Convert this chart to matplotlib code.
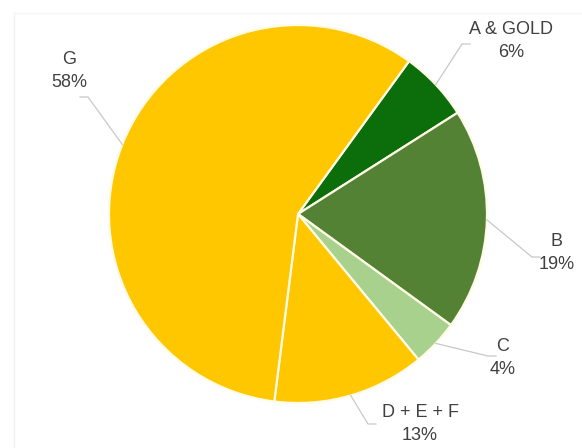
import numpy as np
import matplotlib.pyplot as plt

plt.rcParams["font.family"] = ["Liberation Sans", "DejaVu Sans"]

# share of each group, drawn clockwise starting from the A & GOLD slice
groups = ["A & GOLD", "B", "C", "D + E + F", "G"]
shares = [6, 19, 4, 13, 58]
colors = ["#0b6e0b", "#548235", "#a9d18e", "#ffc700", "#ffc700"]

# label anchor points (pixels from the top-left) and leader elbow ends
label_pos = [(511, 41), (557, 253), (503, 358), (420, 424), (69, 71)]
elbow_pos = [(462, 44), (532, 257), (488, 356), (368, 424), (88, 97)]

W, H = 582, 448
cx, cy, r = 298, 214, 189

fig = plt.figure(figsize=(W / 100, H / 100), dpi=100)
ax = fig.add_axes([0, 0, 1, 1])

# faint chart frame
ax.plot([14, 14], [0, H - 13], color="#f3f3f3", lw=1)
ax.plot([14, W], [H - 13, H - 13], color="#f6f6f6", lw=1)

wedges, _ = ax.pie(
    shares,
    colors=colors,
    startangle=54,
    counterclock=False,
    center=(cx, H - cy),
    radius=r,
    wedgeprops=dict(edgecolor="#fffbe6", linewidth=1.6),
    frame=True,
)
ax.set_xlim(0, W)
ax.set_ylim(0, H)
ax.set_aspect("equal")
ax.axis("off")

for w, name, val, (lx, ly), (ex, ey) in zip(wedges, groups, shares, label_pos, elbow_pos):
    mid = np.deg2rad((w.theta1 + w.theta2) / 2)
    sx = cx + r * np.cos(mid)
    sy = (H - cy) + r * np.sin(mid)
    # leader line: from slice edge to a short horizontal tail near the label
    tail = 8 if ex > cx else -8
    ax.plot([sx, ex, ex + tail], [sy, H - ey, H - ey],
            color="#c8c8c8", lw=0.9, zorder=1)
    ax.text(lx, H - ly, f"{name}\n{val}%", ha="center", va="center",
            fontsize=13, color="#404040", linespacing=1.45)

fig.savefig("out.png", dpi=100)
